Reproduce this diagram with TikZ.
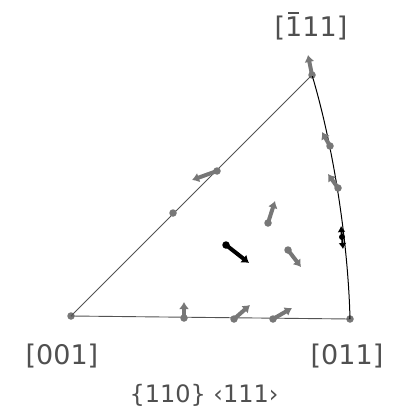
\documentclass[tikz,border=0pt]{standalone}
\usepackage{fontspec}
\setmainfont{DejaVu Sans}
\usetikzlibrary{arrows.meta}
\definecolor{grn}{HTML}{777777}
\definecolor{txt}{HTML}{505050}
\newcommand{\barone}{\ooalign{1\cr\hidewidth\raisebox{0.84em}{\rule{0.42em}{1.6pt}}\hidewidth\cr}}
\tikzset{
  grain/.style={circle, fill=grn, inner sep=0pt, minimum size=7.5pt},
  bgrain/.style={circle, fill=black, inner sep=0pt, minimum size=7.5pt},
  rot/.style={draw=grn, line width=4pt, -{Latex[length=7pt,width=10pt]}, shorten <=-1pt},
  brot/.style={draw=black, line width=4pt, -{Latex[length=7pt,width=10pt]}, shorten <=-1pt},
  edge/.style={draw=grn!70!black, line width=0.9pt},
  lab/.style={text=txt, font=\fontsize{27}{30}\selectfont, inner sep=0pt}
}
\begin{document}
\begin{tikzpicture}[x=1pt,y=-1pt]
\useasboundingbox (0,0) rectangle (394,409);
% vertices
\node[grain] (v001) at (71,316) {};
\node[grain] (v011) at (350,319) {};
\node[grain] (v111) at (312,75) {};
% triangle edges
\draw[edge] (v001.center) -- (v111.center);
\draw[edge] (v001.center) -- (v011.center);
\draw[black, line width=1pt] (v111.center) .. controls (333,145) and (348,240) .. (v011.center);
% grains
\node[grain] (g2) at (330,146) {};
\node[grain] (g3) at (338,188) {};
\node[bgrain, minimum size=6pt] (g4) at (342,237) {};
\node[grain] (g5) at (268,223) {};
\node[grain] (g6) at (288,250) {};
\node[bgrain] (g7) at (226,245) {};
\node[grain] (g8) at (173,213) {};
\node[grain] (g9) at (217,171) {};
\node[grain] (g10) at (184,318) {};
\node[grain] (g11) at (234,319) {};
\node[grain] (g12) at (273,319) {};
% arrow ends
\coordinate (a1) at (308,55);
\coordinate (a2) at (322,132);
\coordinate (a3) at (328,174);
\coordinate (a4u) at (341,226);
\coordinate (a4d) at (343,249);
\coordinate (a5) at (275,201);
\coordinate (a6) at (301,267);
\coordinate (a7) at (249,263);
\coordinate (a9) at (192,180);
\coordinate (a10) at (184,302);
\coordinate (a11) at (250,305);
\coordinate (a12) at (292,308);
\draw[rot] (v111.center) -- (a1);
\draw[rot] (g2.center) -- (a2);
\draw[rot] (g3.center) -- (a3);
\draw[brot, line width=2pt, -{Latex[length=6pt,width=8pt]}] (g4.center) -- (a4u);
\draw[brot, line width=2pt, -{Latex[length=6pt,width=8pt]}] (g4.center) -- (a4d);
\draw[rot] (g5.center) -- (a5);
\draw[rot] (g6.center) -- (a6);
\draw[brot] (g7.center) -- (a7);
\draw[rot] (g9.center) -- (a9);
\draw[rot] (g10.center) -- (a10);
\draw[rot] (g11.center) -- (a11);
\draw[rot] (g12.center) -- (a12);
% labels
\node[lab] (l111) at (311,28) {[\barone11]};
\node[lab] (l001) at (62,356) {[001]};
\node[lab] (l011) at (347,356) {[011]};
\node[lab, font=\fontsize{24}{27}\selectfont] (lsys) at (204,395) {\{110\} ‹111›};
\end{tikzpicture}
\end{document}
